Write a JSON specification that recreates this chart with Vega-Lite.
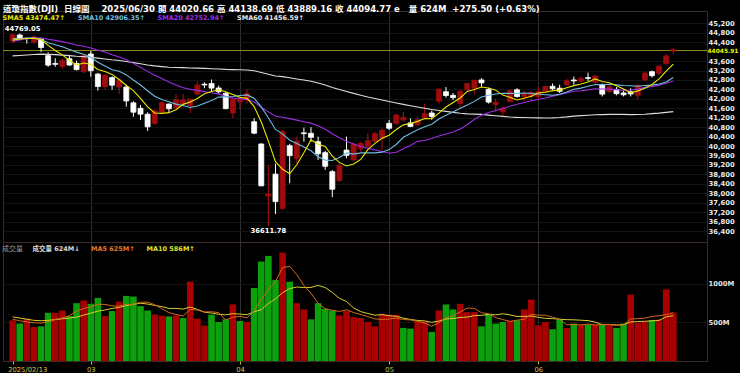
{
  "$schema": "https://vega.github.io/schema/vega-lite/v6.json",
  "width": 704,
  "height": 350,
  "autosize": {"type": "none"},
  "padding": {"left": 3, "top": 11, "right": 33, "bottom": 12},
  "background": "#000000",
  "config": {"view": {"stroke": "#3a2c2c", "strokeWidth": 1}, "axis": {"labelOverlap": false}},
  "title": {
    "text": "道瓊指數(DJI)\u00a0\u00a0日線圖\u00a0\u00a0\u00a0\u00a02025/06/30 開 44020.66 高 44138.69 低 43889.16 收 44094.77 e\u00a0\u00a0\u00a0量 624M\u00a0\u00a0+275.50 (+0.63%)",
    "anchor": "start", "frame": "group", "color": "#ffffff",
    "font": "DejaVu Sans, Noto Sans CJK TC", "fontSize": 8.5, "fontWeight": "bold",
    "offset": -2
  },
  "datasets": {
    "k": [
      {"i":0,"d":"02/13","o":44451,"h":44750,"l":44370,"c":44711.43,"v":525,"vd":"u","SMA5":44489,"SMA10":44559,"SMA20":44428,"SMA60":43820,"VMA5":540,"VMA10":570},
      {"i":1,"d":"02/14","o":44705,"h":44769.05,"l":44480,"c":44546.08,"v":483,"vd":"d","SMA5":44538,"SMA10":44559,"SMA20":44498,"SMA60":43839,"VMA5":520,"VMA10":555},
      {"i":2,"d":"02/18","o":44560,"h":44590,"l":44340,"c":44556.34,"v":547,"vd":"u","SMA5":44555,"SMA10":44573,"SMA20":44551,"SMA60":43858,"VMA5":505,"VMA10":540},
      {"i":3,"d":"02/19","o":44400,"h":44680,"l":44330,"c":44627.59,"v":440,"vd":"u","SMA5":44562,"SMA10":44580,"SMA20":44581,"SMA60":43881,"VMA5":495,"VMA10":525},
      {"i":4,"d":"02/20","o":44530,"h":44570,"l":43990,"c":44176.65,"v":448,"vd":"d","SMA5":44524,"SMA10":44510,"SMA20":44582,"SMA60":43893,"VMA5":489,"VMA10":520},
      {"i":5,"d":"02/21","o":43830,"h":43970,"l":43360,"c":43428.02,"v":623,"vd":"d","SMA5":44267,"SMA10":44378,"SMA20":44526,"SMA60":43886,"VMA5":508,"VMA10":525},
      {"i":6,"d":"02/24","o":43500,"h":43720,"l":43360,"c":43461.21,"v":623,"vd":"u","SMA5":44050,"SMA10":44294,"SMA20":44477,"SMA60":43872,"VMA5":536,"VMA10":535},
      {"i":7,"d":"02/25","o":43380,"h":43700,"l":43290,"c":43621.16,"v":653,"vd":"u","SMA5":43863,"SMA10":44209,"SMA20":44423,"SMA60":43854,"VMA5":557,"VMA10":545},
      {"i":8,"d":"02/26","o":43700,"h":43860,"l":43400,"c":43433.12,"v":580,"vd":"d","SMA5":43624,"SMA10":44093,"SMA20":44352,"SMA60":43830,"VMA5":585,"VMA10":555},
      {"i":9,"d":"02/27","o":43500,"h":43620,"l":43200,"c":43239.5,"v":747,"vd":"d","SMA5":43437,"SMA10":43980,"SMA20":44278,"SMA60":43805,"VMA5":645,"VMA10":567},
      {"i":10,"d":"02/28","o":43150,"h":43860,"l":43080,"c":43840.91,"v":781,"vd":"u","SMA5":43519,"SMA10":43893,"SMA20":44226,"SMA60":43787,"VMA5":677,"VMA10":593},
      {"i":11,"d":"03/03","o":43900,"h":44030,"l":42940,"c":43191.24,"v":739,"vd":"d","SMA5":43465,"SMA10":43758,"SMA20":44158,"SMA60":43761,"VMA5":700,"VMA10":618},
      {"i":12,"d":"03/04","o":43050,"h":43100,"l":42350,"c":42520.99,"v":815,"vd":"d","SMA5":43245,"SMA10":43554,"SMA20":44063,"SMA60":43724,"VMA5":732,"VMA10":645},
      {"i":13,"d":"03/05","o":42520,"h":43050,"l":42400,"c":43006.59,"v":580,"vd":"u","SMA5":43160,"SMA10":43392,"SMA20":43986,"SMA60":43691,"VMA5":732,"VMA10":659},
      {"i":14,"d":"03/06","o":42900,"h":42950,"l":42380,"c":42579.08,"v":645,"vd":"d","SMA5":43028,"SMA10":43232,"SMA20":43871,"SMA60":43654,"VMA5":712,"VMA10":679},
      {"i":15,"d":"03/07","o":42500,"h":42850,"l":42200,"c":42801.72,"v":768,"vd":"u","SMA5":42820,"SMA10":43170,"SMA20":43774,"SMA60":43624,"VMA5":709,"VMA10":693},
      {"i":16,"d":"03/10","o":42500,"h":42600,"l":41670,"c":41911.71,"v":841,"vd":"d","SMA5":42564,"SMA10":43015,"SMA20":43654,"SMA60":43582,"VMA5":730,"VMA10":715},
      {"i":17,"d":"03/11","o":41830,"h":41900,"l":41240,"c":41433.48,"v":832,"vd":"d","SMA5":42347,"SMA10":42796,"SMA20":43503,"SMA60":43535,"VMA5":733,"VMA10":733},
      {"i":18,"d":"03/12","o":41600,"h":41740,"l":41100,"c":41350.93,"v":709,"vd":"d","SMA5":42015,"SMA10":42588,"SMA20":43340,"SMA60":43489,"VMA5":759,"VMA10":746},
      {"i":19,"d":"03/13","o":41350,"h":41430,"l":40640,"c":40813.57,"v":653,"vd":"d","SMA5":41662,"SMA10":42345,"SMA20":43163,"SMA60":43437,"VMA5":761,"VMA10":736},
      {"i":20,"d":"03/14","o":40960,"h":41560,"l":40900,"c":41488.19,"v":602,"vd":"u","SMA5":41400,"SMA10":42110,"SMA20":43001,"SMA60":43398,"VMA5":727,"VMA10":718},
      {"i":21,"d":"03/17","o":41430,"h":41900,"l":41350,"c":41841.63,"v":585,"vd":"u","SMA5":41386,"SMA10":41975,"SMA20":42866,"SMA60":43367,"VMA5":676,"VMA10":703},
      {"i":22,"d":"03/18","o":41780,"h":41800,"l":41430,"c":41581.31,"v":576,"vd":"d","SMA5":41415,"SMA10":41881,"SMA20":42718,"SMA60":43336,"VMA5":625,"VMA10":679},
      {"i":23,"d":"03/19","o":41620,"h":42200,"l":41550,"c":41964.63,"v":589,"vd":"u","SMA5":41538,"SMA10":41777,"SMA20":42584,"SMA60":43330,"VMA5":601,"VMA10":680},
      {"i":24,"d":"03/20","o":41780,"h":42200,"l":41700,"c":41953.32,"v":555,"vd":"d","SMA5":41766,"SMA10":41714,"SMA20":42473,"SMA60":43323,"VMA5":581,"VMA10":671},
      {"i":25,"d":"03/21","o":41700,"h":42000,"l":41400,"c":41985.35,"v":1025,"vd":"u","SMA5":41865,"SMA10":41632,"SMA20":42401,"SMA60":43309,"VMA5":666,"VMA10":697},
      {"i":26,"d":"03/24","o":42200,"h":42750,"l":42150,"c":42583.32,"v":547,"vd":"u","SMA5":42013,"SMA10":41700,"SMA20":42357,"SMA60":43303,"VMA5":658,"VMA10":667},
      {"i":27,"d":"03/25","o":42620,"h":42700,"l":42450,"c":42587.5,"v":457,"vd":"u","SMA5":42215,"SMA10":41815,"SMA20":42305,"SMA60":43292,"VMA5":635,"VMA10":630},
      {"i":28,"d":"03/26","o":42650,"h":42820,"l":42300,"c":42454.79,"v":598,"vd":"d","SMA5":42313,"SMA10":41925,"SMA20":42257,"SMA60":43277,"VMA5":636,"VMA10":619},
      {"i":29,"d":"03/27","o":42460,"h":42560,"l":42200,"c":42299.7,"v":504,"vd":"d","SMA5":42382,"SMA10":42074,"SMA20":42210,"SMA60":43266,"VMA5":626,"VMA10":604},
      {"i":30,"d":"03/28","o":42230,"h":42300,"l":41560,"c":41583.9,"v":538,"vd":"d","SMA5":42302,"SMA10":42084,"SMA20":42097,"SMA60":43249,"VMA5":529,"VMA10":597},
      {"i":31,"d":"03/31","o":41400,"h":42050,"l":41180,"c":42001.76,"v":730,"vd":"u","SMA5":42186,"SMA10":42100,"SMA20":42037,"SMA60":43240,"VMA5":565,"VMA10":612},
      {"i":32,"d":"04/01","o":41870,"h":42100,"l":41550,"c":41989.96,"v":517,"vd":"d","SMA5":42066,"SMA10":42141,"SMA20":42011,"SMA60":43233,"VMA5":577,"VMA10":606},
      {"i":33,"d":"04/02","o":41950,"h":42400,"l":41800,"c":42225.32,"v":504,"vd":"u","SMA5":42020,"SMA10":42167,"SMA20":41972,"SMA60":43225,"VMA5":559,"VMA10":598},
      {"i":34,"d":"04/03","o":41030,"h":41180,"l":40500,"c":40545.93,"v":944,"vd":"d","SMA5":41669,"SMA10":42026,"SMA20":41870,"SMA60":43189,"VMA5":647,"VMA10":636},
      {"i":35,"d":"04/04","o":40087,"h":40120,"l":38300,"c":38314.86,"v":1285,"vd":"d","SMA5":41016,"SMA10":41659,"SMA20":41646,"SMA60":43119,"VMA5":796,"VMA10":662},
      {"i":36,"d":"04/07","o":37880,"h":39200,"l":36611.78,"c":37965.6,"v":1358,"vd":"d","SMA5":40208,"SMA10":41197,"SMA20":41448,"SMA60":43041,"VMA5":922,"VMA10":744},
      {"i":37,"d":"04/08","o":38810,"h":39250,"l":37120,"c":37645.59,"v":1046,"vd":"d","SMA5":39340,"SMA10":40703,"SMA20":41259,"SMA60":42969,"VMA5":1027,"VMA10":802},
      {"i":38,"d":"04/09","o":37360,"h":40680,"l":37300,"c":40608.45,"v":1400,"vd":"u","SMA5":39016,"SMA10":40518,"SMA20":41222,"SMA60":42941,"VMA5":1207,"VMA10":883},
      {"i":39,"d":"04/10","o":40017,"h":40100,"l":38420,"c":39593.66,"v":1025,"vd":"d","SMA5":38826,"SMA10":40248,"SMA20":41161,"SMA60":42892,"VMA5":1223,"VMA10":935},
      {"i":40,"d":"04/11","o":39480,"h":40400,"l":39270,"c":40212.71,"v":747,"vd":"u","SMA5":39205,"SMA10":40111,"SMA20":41097,"SMA60":42842,"VMA5":1115,"VMA10":956},
      {"i":41,"d":"04/14","o":40560,"h":40780,"l":40185,"c":40524.79,"v":666,"vd":"u","SMA5":39717,"SMA10":39963,"SMA20":41031,"SMA60":42798,"VMA5":977,"VMA10":949},
      {"i":42,"d":"04/15","o":40540,"h":40800,"l":40180,"c":40368.96,"v":538,"vd":"d","SMA5":40262,"SMA10":39801,"SMA20":40971,"SMA60":42746,"VMA5":875,"VMA10":951},
      {"i":43,"d":"04/16","o":40185,"h":40400,"l":39410,"c":39669.39,"v":747,"vd":"d","SMA5":40074,"SMA10":39545,"SMA20":40856,"SMA60":42674,"VMA5":745,"VMA10":976},
      {"i":44,"d":"04/17","o":39720,"h":39800,"l":38990,"c":39142.23,"v":675,"vd":"d","SMA5":39984,"SMA10":39405,"SMA20":40715,"SMA60":42590,"VMA5":675,"VMA10":949},
      {"i":45,"d":"04/21","o":38915,"h":38980,"l":37830,"c":38170.41,"v":653,"vd":"d","SMA5":39575,"SMA10":39390,"SMA20":40525,"SMA60":42484,"VMA5":656,"VMA10":886},
      {"i":46,"d":"04/22","o":38530,"h":39290,"l":38500,"c":39186.98,"v":589,"vd":"u","SMA5":39307,"SMA10":39512,"SMA20":40355,"SMA60":42396,"VMA5":640,"VMA10":809},
      {"i":47,"d":"04/23","o":39830,"h":40400,"l":39480,"c":39606.57,"v":645,"vd":"u","SMA5":39155,"SMA10":39708,"SMA20":40206,"SMA60":42311,"VMA5":662,"VMA10":769},
      {"i":48,"d":"04/24","o":39410,"h":40120,"l":39350,"c":40093.4,"v":568,"vd":"u","SMA5":39240,"SMA10":39657,"SMA20":40088,"SMA60":42232,"VMA5":626,"VMA10":685},
      {"i":49,"d":"04/25","o":39900,"h":40180,"l":39760,"c":40113.5,"v":555,"vd":"u","SMA5":39434,"SMA10":39709,"SMA20":39978,"SMA60":42155,"VMA5":602,"VMA10":638},
      {"i":50,"d":"04/28","o":40000,"h":40530,"l":39900,"c":40227.59,"v":504,"vd":"u","SMA5":39846,"SMA10":39710,"SMA20":39910,"SMA60":42078,"VMA5":572,"VMA10":614},
      {"i":51,"d":"04/29","o":40200,"h":40600,"l":40150,"c":40527.62,"v":448,"vd":"u","SMA5":40114,"SMA10":39711,"SMA20":39837,"SMA60":42011,"VMA5":544,"VMA10":592},
      {"i":52,"d":"04/30","o":40330,"h":40750,"l":39800,"c":40669.36,"v":610,"vd":"u","SMA5":40326,"SMA10":39741,"SMA20":39771,"SMA60":41948,"VMA5":537,"VMA10":599},
      {"i":53,"d":"05/01","o":40960,"h":41100,"l":40680,"c":40752.96,"v":598,"vd":"u","SMA5":40458,"SMA10":39849,"SMA20":39697,"SMA60":41885,"VMA5":543,"VMA10":585},
      {"i":54,"d":"05/02","o":40950,"h":41350,"l":40900,"c":41317.43,"v":598,"vd":"u","SMA5":40699,"SMA10":40067,"SMA20":39736,"SMA60":41826,"VMA5":552,"VMA10":577},
      {"i":55,"d":"05/05","o":41100,"h":41440,"l":41030,"c":41218.83,"v":427,"vd":"d","SMA5":40897,"SMA10":40372,"SMA20":39881,"SMA60":41767,"VMA5":536,"VMA10":554},
      {"i":56,"d":"05/06","o":40980,"h":41170,"l":40800,"c":40829,"v":418,"vd":"d","SMA5":40957,"SMA10":40536,"SMA20":40024,"SMA60":41709,"VMA5":530,"VMA10":537},
      {"i":57,"d":"05/07","o":40900,"h":41250,"l":40850,"c":41113.97,"v":512,"vd":"u","SMA5":41046,"SMA10":40686,"SMA20":40197,"SMA60":41653,"VMA5":511,"VMA10":524},
      {"i":58,"d":"05/08","o":41200,"h":41800,"l":41150,"c":41368.45,"v":512,"vd":"u","SMA5":41169,"SMA10":40814,"SMA20":40235,"SMA60":41599,"VMA5":493,"VMA10":518},
      {"i":59,"d":"05/09","o":41400,"h":41500,"l":41120,"c":41249.38,"v":376,"vd":"d","SMA5":41156,"SMA10":40927,"SMA20":40318,"SMA60":41547,"VMA5":449,"VMA10":500},
      {"i":60,"d":"05/12","o":41900,"h":42440,"l":41800,"c":42410.1,"v":653,"vd":"u","SMA5":41394,"SMA10":41146,"SMA20":40428,"SMA60":41509,"VMA5":494,"VMA10":515},
      {"i":61,"d":"05/13","o":42300,"h":42500,"l":42050,"c":42140.43,"v":730,"vd":"d","SMA5":41656,"SMA10":41307,"SMA20":40509,"SMA60":41469,"VMA5":557,"VMA10":543},
      {"i":62,"d":"05/14","o":42150,"h":42250,"l":41950,"c":42051.06,"v":666,"vd":"d","SMA5":41844,"SMA10":41445,"SMA20":40593,"SMA60":41427,"VMA5":587,"VMA10":549},
      {"i":63,"d":"05/15","o":41800,"h":42350,"l":41600,"c":42322.75,"v":739,"vd":"u","SMA5":42035,"SMA10":41602,"SMA20":40726,"SMA60":41389,"VMA5":633,"VMA10":563},
      {"i":64,"d":"05/16","o":42380,"h":42680,"l":42300,"c":42654.74,"v":632,"vd":"u","SMA5":42316,"SMA10":41736,"SMA20":40901,"SMA60":41363,"VMA5":684,"VMA10":567},
      {"i":65,"d":"05/19","o":42450,"h":42800,"l":42200,"c":42792.07,"v":632,"vd":"u","SMA5":42392,"SMA10":41893,"SMA20":41132,"SMA60":41353,"VMA5":680,"VMA10":587},
      {"i":66,"d":"05/20","o":42800,"h":42880,"l":42500,"c":42677.24,"v":448,"vd":"d","SMA5":42500,"SMA10":42078,"SMA20":41307,"SMA60":41340,"VMA5":623,"VMA10":590},
      {"i":67,"d":"05/21","o":42400,"h":42470,"l":41800,"c":41860.44,"v":610,"vd":"d","SMA5":42461,"SMA10":42153,"SMA20":41419,"SMA60":41310,"VMA5":612,"VMA10":600},
      {"i":68,"d":"05/22","o":41750,"h":42000,"l":41450,"c":41859.09,"v":483,"vd":"d","SMA5":42369,"SMA10":42202,"SMA20":41508,"SMA60":41284,"VMA5":561,"VMA10":597},
      {"i":69,"d":"05/23","o":41450,"h":41700,"l":41300,"c":41603.07,"v":504,"vd":"d","SMA5":42158,"SMA10":42237,"SMA20":41582,"SMA60":41257,"VMA5":535,"VMA10":610},
      {"i":70,"d":"05/27","o":41880,"h":42400,"l":41850,"c":42343.65,"v":517,"vd":"u","SMA5":42069,"SMA10":42230,"SMA20":41688,"SMA60":41232,"VMA5":512,"VMA10":596},
      {"i":71,"d":"05/28","o":42380,"h":42450,"l":42050,"c":42098.7,"v":525,"vd":"d","SMA5":41953,"SMA10":42226,"SMA20":41767,"SMA60":41214,"VMA5":528,"VMA10":576},
      {"i":72,"d":"05/29","o":42100,"h":42350,"l":41900,"c":42215.73,"v":666,"vd":"u","SMA5":42024,"SMA10":42243,"SMA20":41844,"SMA60":41208,"VMA5":539,"VMA10":576},
      {"i":73,"d":"05/30","o":42100,"h":42350,"l":41900,"c":42270.07,"v":794,"vd":"u","SMA5":42106,"SMA10":42238,"SMA20":41920,"SMA60":41196,"VMA5":601,"VMA10":581},
      {"i":74,"d":"06/02","o":42100,"h":42500,"l":41950,"c":42305.48,"v":461,"vd":"u","SMA5":42247,"SMA10":42203,"SMA20":41969,"SMA60":41192,"VMA5":593,"VMA10":564},
      {"i":75,"d":"06/03","o":42300,"h":42550,"l":42250,"c":42519.64,"v":504,"vd":"u","SMA5":42282,"SMA10":42175,"SMA20":42034,"SMA60":41187,"VMA5":590,"VMA10":551},
      {"i":76,"d":"06/04","o":42530,"h":42650,"l":42380,"c":42427.74,"v":410,"vd":"d","SMA5":42348,"SMA10":42150,"SMA20":42114,"SMA60":41195,"VMA5":567,"VMA10":547},
      {"i":77,"d":"06/05","o":42450,"h":42600,"l":42250,"c":42319.74,"v":534,"vd":"d","SMA5":42369,"SMA10":42196,"SMA20":42174,"SMA60":41210,"VMA5":541,"VMA10":540},
      {"i":78,"d":"06/06","o":42600,"h":42850,"l":42550,"c":42762.87,"v":427,"vd":"u","SMA5":42467,"SMA10":42287,"SMA20":42244,"SMA60":41234,"VMA5":467,"VMA10":534},
      {"i":79,"d":"06/09","o":42800,"h":42950,"l":42600,"c":42761.76,"v":483,"vd":"d","SMA5":42559,"SMA10":42403,"SMA20":42320,"SMA60":41266,"VMA5":472,"VMA10":532},
      {"i":80,"d":"06/10","o":42750,"h":42950,"l":42700,"c":42866.87,"v":470,"vd":"u","SMA5":42628,"SMA10":42455,"SMA20":42343,"SMA60":41289,"VMA5":465,"VMA10":527},
      {"i":81,"d":"06/11","o":42900,"h":43110,"l":42750,"c":42865.77,"v":470,"vd":"d","SMA5":42716,"SMA10":42532,"SMA20":42379,"SMA60":41306,"VMA5":477,"VMA10":522},
      {"i":82,"d":"06/12","o":42700,"h":43000,"l":42650,"c":42967.62,"v":470,"vd":"u","SMA5":42845,"SMA10":42607,"SMA20":42425,"SMA60":41329,"VMA5":464,"VMA10":502},
      {"i":83,"d":"06/13","o":42600,"h":42650,"l":42100,"c":42197.79,"v":474,"vd":"d","SMA5":42732,"SMA10":42600,"SMA20":42419,"SMA60":41333,"VMA5":473,"VMA10":470},
      {"i":84,"d":"06/16","o":42300,"h":42600,"l":42250,"c":42515.09,"v":474,"vd":"u","SMA5":42683,"SMA10":42621,"SMA20":42412,"SMA60":41343,"VMA5":472,"VMA10":472},
      {"i":85,"d":"06/17","o":42400,"h":42500,"l":42150,"c":42215.8,"v":427,"vd":"d","SMA5":42553,"SMA10":42590,"SMA20":42383,"SMA60":41347,"VMA5":463,"VMA10":464},
      {"i":86,"d":"06/18","o":42250,"h":42400,"l":42100,"c":42171.66,"v":483,"vd":"d","SMA5":42414,"SMA10":42565,"SMA20":42358,"SMA60":41340,"VMA5":466,"VMA10":471},
      {"i":87,"d":"06/20","o":42300,"h":42450,"l":42100,"c":42206.82,"v":858,"vd":"u","SMA5":42262,"SMA10":42553,"SMA20":42375,"SMA60":41333,"VMA5":543,"VMA10":504},
      {"i":88,"d":"06/23","o":42150,"h":42600,"l":41980,"c":42581.78,"v":493,"vd":"u","SMA5":42338,"SMA10":42535,"SMA20":42411,"SMA60":41335,"VMA5":547,"VMA10":510},
      {"i":89,"d":"06/24","o":42800,"h":43150,"l":42750,"c":43089.02,"v":510,"vd":"u","SMA5":42453,"SMA10":42568,"SMA20":42485,"SMA60":41349,"VMA5":554,"VMA10":513},
      {"i":90,"d":"06/25","o":43150,"h":43200,"l":42900,"c":42982.43,"v":530,"vd":"d","SMA5":42606,"SMA10":42580,"SMA20":42517,"SMA60":41372,"VMA5":575,"VMA10":519},
      {"i":91,"d":"06/26","o":43080,"h":43420,"l":43000,"c":43386.84,"v":535,"vd":"u","SMA5":42849,"SMA10":42632,"SMA20":42582,"SMA60":41395,"VMA5":585,"VMA10":525},
      {"i":92,"d":"06/27","o":43500,"h":43900,"l":43450,"c":43819.27,"v":926,"vd":"u","SMA5":43172,"SMA10":42717,"SMA20":42662,"SMA60":41425,"VMA5":599,"VMA10":571},
      {"i":93,"d":"06/30","o":44020.66,"h":44138.69,"l":43889.16,"c":44094.77,"v":624,"vd":"u","SMA5":43474.47,"SMA10":42906.35,"SMA20":42752.94,"SMA60":41456.59,"VMA5":625,"VMA10":586}
    ]
  },
  "layer": [
    {
      "layer": [
        {
          "data": {"values": [{"level": 44045.91}]},
          "mark": {"type": "rule", "color": "#8e8e22", "strokeWidth": 1},
          "encoding": {
            "y": {"field": "level", "type": "quantitative", "scale": {"domain": [30892, 45722], "nice": false, "zero": false},
              "axis": {
                "orient": "right", "title": null, "domain": false, "ticks": false, "grid": false,
                "values": [44045.91], "format": ".2f",
                "labelColor": "#f0f000", "labelFont": "DejaVu Sans", "labelFontWeight": "bold", "labelFontSize": 5.9,
                "labelPadding": 0, "labelOverlap": false, "labelFlush": false, "labelBound": false
              }
            }
          }
        }
      ]
    },
    {
      "data": {"name": "k"},
      "layer": [
        {
          "mark": {"type": "rule", "strokeWidth": 1},
          "encoding": {
            "x": {
              "field": "i", "type": "quantitative",
              "scale": {"domain": [-0.652, 97.04], "nice": false, "zero": false},
              "axis": {
                "values": [0, 11, 32, 53, 74], "tickCount": 20,
                "labelExpr": "datum.value == 0 ? '2025/02/13' : datum.value == 11 ? '03' : datum.value == 32 ? '04' : datum.value == 53 ? '05' : '06'",
                "title": null, "domain": false, "ticks": true, "tickSize": 3, "tickColor": "#c8b84a",
                "labelColor": "#d2c35a", "labelFont": "DejaVu Sans", "labelFontSize": 6.8, "labelPadding": 2,
                "labelAlign": {"condition": {"test": "datum.value == 0", "value": "left"}, "value": "center"},
                "labelOffset": {"condition": {"test": "datum.value == 0", "value": -5}, "value": 0},
                "labelFlush": false, "labelOverlap": false,
                "grid": true, "gridWidth": 1,
                "gridColor": {"condition": {"test": "datum.value == 0", "value": "rgba(0,0,0,0)"}, "value": "#2e2e2e"}
              }
            },
            "y": {"field": "l", "type": "quantitative", "scale": {"domain": [30892, 45722], "nice": false, "zero": false},
              "axis": {
                "orient": "right", "title": null, "domain": false, "ticks": false, "tickCount": 60,
                "values": [36400, 36800, 37200, 37600, 38000, 38400, 38800, 39200, 39600, 40000, 40400, 40800, 41200, 41600, 42000, 42400, 42800, 43200, 43600, 44400, 44800, 45200],
                "labelColor": "#e8e8e8", "labelFont": "DejaVu Sans", "labelFontWeight": "bold", "labelFontSize": 6.8,
                "labelPadding": 1, "labelOverlap": false, "labelFlush": false, "labelBound": false,
                "grid": true, "gridColor": "#141414", "gridWidth": 1
              }
            },
            "y2": {"field": "h"},
            "color": {"condition": {"test": "datum.c >= datum.o", "value": "#b01010"}, "value": "#ffffff"}
          }
        },
        {
          "mark": {"type": "bar", "width": 5, "strokeWidth": 0.8},
          "encoding": {
            "x": {"field": "i", "type": "quantitative", "scale": {"domain": [-0.652, 97.04], "nice": false, "zero": false}},
            "y": {"field": "o", "type": "quantitative", "scale": {"domain": [30892, 45722], "nice": false, "zero": false}},
            "y2": {"field": "c"},
            "fill": {"condition": {"test": "datum.c >= datum.o", "value": "#a00c0c"}, "value": "#ffffff"},
            "stroke": {"condition": {"test": "datum.c >= datum.o", "value": "#a00c0c"}, "value": "#ffffff"}
          }
        },
        {
          "transform": [{"fold": ["SMA60", "SMA20", "SMA10", "SMA5"], "as": ["ma", "val"]}],
          "mark": {"type": "line", "strokeWidth": 1.1},
          "encoding": {
            "x": {"field": "i", "type": "quantitative", "scale": {"domain": [-0.652, 97.04], "nice": false, "zero": false}},
            "y": {"field": "val", "type": "quantitative", "scale": {"domain": [30892, 45722], "nice": false, "zero": false}},
            "color": {
              "field": "ma", "type": "nominal",
              "scale": {"domain": ["SMA5", "SMA10", "SMA20", "SMA60"], "range": ["#e8e800", "#6cbde0", "#9a2ee0", "#dcdcdc"]},
              "legend": {
                "orient": "none", "legendX": -7, "legendY": 3.5, "direction": "horizontal", "columns": 4,
                "title": null, "padding": 0, "symbolSize": 0, "symbolStrokeWidth": 0, "symbolOpacity": 0,
                "labelOffset": 0, "columnPadding": 5.5, "labelLimit": 200,
                "labelFont": "DejaVu Sans", "labelFontSize": 6.5, "labelFontWeight": "bold",
                "labelExpr": "datum.value == 'SMA5' ? 'SMA5 43474.47↑' : datum.value == 'SMA10' ? 'SMA10 42906.35↑' : datum.value == 'SMA20' ? 'SMA20 42752.94↑' : 'SMA60 41456.59↑'",
                "encode": {"labels": {"update": {"fill": {"signal": "datum.value == 'SMA5' ? '#e8e800' : datum.value == 'SMA10' ? '#6cbde0' : datum.value == 'SMA20' ? '#9a2ee0' : '#e6e6e6'"}}}}
              }
            }
          }
        },
        {
          "transform": [{"joinaggregate": [{"op": "max", "field": "h", "as": "mh"}]}, {"filter": "datum.h == datum.mh"}],
          "mark": {"type": "text", "align": "left", "baseline": "middle", "dx": -15, "dy": -4.5, "font": "DejaVu Sans", "fontSize": 6.8, "fontWeight": "bold", "color": "#ffffff"},
          "encoding": {
            "x": {"field": "i", "type": "quantitative", "scale": {"domain": [-0.652, 97.04], "nice": false, "zero": false}},
            "y": {"field": "h", "type": "quantitative", "scale": {"domain": [30892, 45722], "nice": false, "zero": false}},
            "text": {"field": "h", "format": ".2f"}
          }
        },
        {
          "transform": [{"joinaggregate": [{"op": "min", "field": "l", "as": "ml"}]}, {"filter": "datum.l == datum.ml"}],
          "mark": {"type": "text", "align": "center", "baseline": "middle", "dy": 5, "font": "DejaVu Sans", "fontSize": 6.8, "fontWeight": "bold", "color": "#ffffff"},
          "encoding": {
            "x": {"field": "i", "type": "quantitative", "scale": {"domain": [-0.652, 97.04], "nice": false, "zero": false}},
            "y": {"field": "l", "type": "quantitative", "scale": {"domain": [30892, 45722], "nice": false, "zero": false}},
            "text": {"field": "l", "format": ".2f"}
          }
        }
      ]
    },
    {
      "data": {"name": "k"},
      "layer": [
        {
          "mark": {"type": "bar", "width": 6.6},
          "encoding": {
            "x": {"field": "i", "type": "quantitative", "scale": {"domain": [-0.652, 97.04], "nice": false, "zero": false}},
            "y": {"field": "v", "type": "quantitative", "scale": {"domain": [0, 4522], "nice": false},
              "axis": {
                "orient": "right", "title": null, "domain": false, "ticks": false, "values": [500, 1000, 1537], "tickCount": 20,
                "labelExpr": "datum.value > 1200 ? '' : datum.value + 'M'",
                "labelColor": "#e8e8e8", "labelFont": "DejaVu Sans", "labelFontWeight": "bold", "labelFontSize": 6.8,
                "labelPadding": 1, "labelOverlap": false, "labelFlush": false,
                "grid": true, "gridWidth": 1,
                "gridColor": {"condition": {"test": "datum.value > 1200", "value": "#3c2c2c"}, "value": "#141414"}
              }
            },
            "color": {"condition": {"test": "datum.vd == 'u'", "value": "#a80000"}, "value": "#0ca00c"}
          }
        },
        {
          "transform": [{"fold": ["VMA10", "VMA5"], "as": ["vm", "val"]}],
          "mark": {"type": "line", "strokeWidth": 1},
          "encoding": {
            "x": {"field": "i", "type": "quantitative", "scale": {"domain": [-0.652, 97.04], "nice": false, "zero": false}},
            "y": {"field": "val", "type": "quantitative", "scale": {"domain": [0, 4522], "nice": false}},
            "color": {
              "field": "vm", "type": "nominal",
              "scale": {"domain": ["VOL", "VMA5", "VMA10"], "range": ["#ffffff", "#d2691e", "#d8d030"]},
              "legend": {
                "orient": "none", "legendX": -1, "legendY": 234.5, "direction": "horizontal", "columns": 3,
                "title": "成交量", "titleOrient": "left", "titleColor": "#9a9a9a", "titleFont": "Noto Sans CJK TC",
                "titleFontSize": 7, "titleFontWeight": "normal", "titlePadding": 3,
                "padding": 0, "symbolSize": 0, "symbolStrokeWidth": 0, "symbolOpacity": 0,
                "labelOffset": 0, "columnPadding": 4.5, "labelLimit": 200,
                "labelFont": "DejaVu Sans, Noto Sans CJK TC", "labelFontSize": 6.5, "labelFontWeight": "bold",
                "labelExpr": "datum.value == 'VOL' ? '成交量 624M↓' : datum.value == 'VMA5' ? 'MA5 625M↑' : 'MA10 586M↑'",
                "encode": {"labels": {"update": {"fill": {"signal": "datum.value == 'VOL' ? '#d8d8d8' : datum.value == 'VMA5' ? '#e07828' : '#e0e030'"}}}}
              }
            }
          }
        }
      ]
    }
  ],
  "resolve": {"scale": {"y": "independent", "color": "independent"}, "axis": {"y": "independent"}, "legend": {"color": "independent"}}
}
